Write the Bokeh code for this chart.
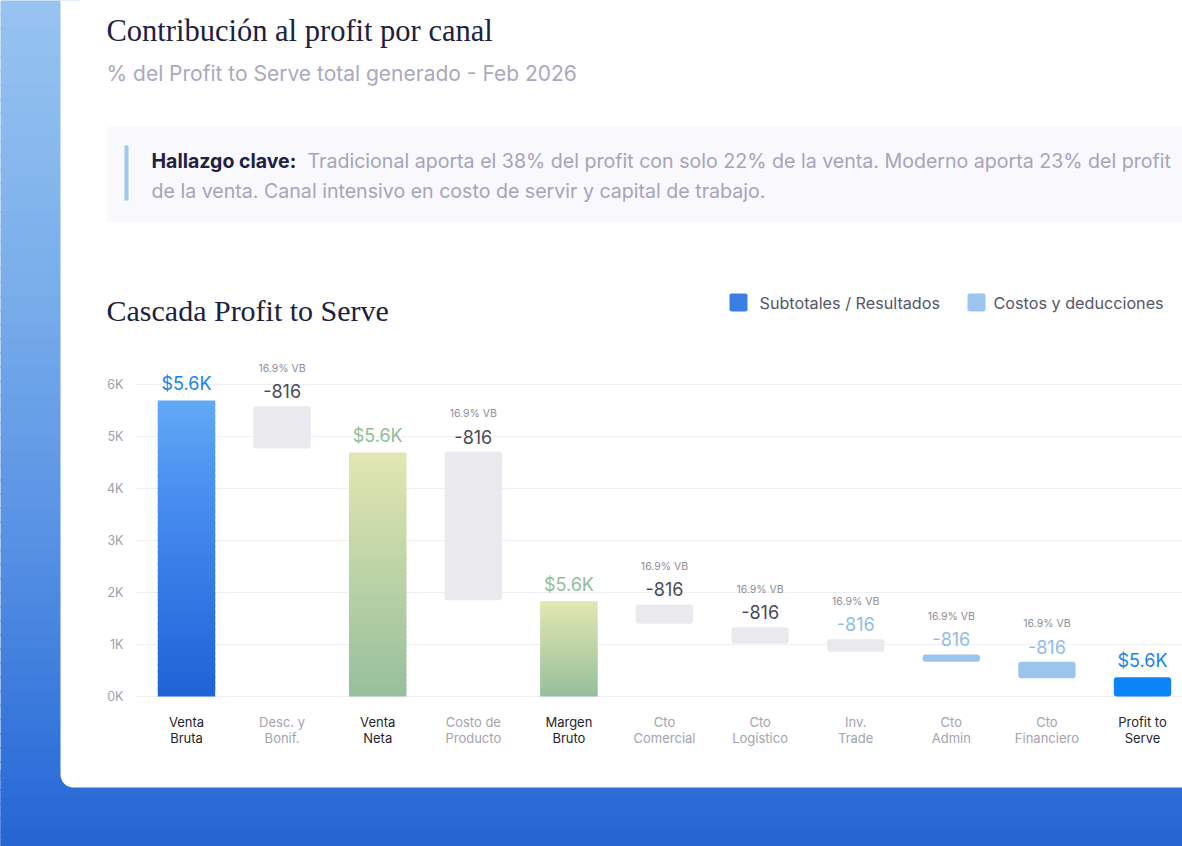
from bokeh.plotting import figure
from bokeh.models import Range1d, ColumnDataSource
from bokeh.core.properties import value
from bokeh.embed import file_html
from bokeh.resources import INLINE

# ---------------------------------------------------------------- data
categories = ["Venta Bruta", "Desc. y Bonif.", "Venta Neta", "Costo de Producto",
              "Margen Bruto", "Cto Comercial", "Cto Logístico", "Inv. Trade",
              "Cto Admin", "Cto Financiero", "Profit to Serve"]
bar_top = [5690, 5580, 4690, 4710, 1830, 1770, 1330, 1100, 810, 670, 370]
bar_base = [0, 4770, 0, 1850, 0, 1400, 1020, 860, 670, 350, 0]
value_text = ["$5.6K", "-816", "$5.6K", "-816", "$5.6K", "-816", "-816",
              "-816", "-816", "-816", "$5.6K"]
share_text = ["", "16.9% VB", "", "16.9% VB", "", "16.9% VB", "16.9% VB",
              "16.9% VB", "16.9% VB", "16.9% VB", ""]
bar_kind = ["gross", "cost", "net", "cost", "net", "cost", "cost",
            "cost_mark", "cost_blue", "cost_blue", "result"]
y_ticks = [0, 1000, 2000, 3000, 4000, 5000, 6000]
y_tick_text = ["0K", "1K", "2K", "3K", "4K", "5K", "6K"]
legend_items = ["Subtotales / Resultados", "Costos y deducciones"]

title_text = "Contribución al profit por canal"
subtitle_text = "% del Profit to Serve total generado - Feb 2026"
insight_head = "Hallazgo clave:"
insight_lines = ["Tradicional aporta el 38% del profit con solo 22% de la venta. Moderno aporta 23% del profit",
                 "de la venta. Canal intensivo en costo de servir y capital de trabajo."]
chart_title = "Cascada Profit to Serve"

# ---------------------------------------------------------------- styling
W, H = 1182, 846
SANS = value("Inter")
SERIF = value("Liberation Serif")

def hex2rgb(c):
    c = c.lstrip("#")
    return tuple(int(c[i:i + 2], 16) for i in (0, 2, 4))

def mix(stops, t):
    """Colour along a list of (position, hex) stops."""
    for (p0, c0), (p1, c1) in zip(stops, stops[1:]):
        if t <= p1:
            f = 0 if p1 == p0 else (t - p0) / (p1 - p0)
            a, b = hex2rgb(c0), hex2rgb(c1)
            return "#%02x%02x%02x" % tuple(round(a[k] + (b[k] - a[k]) * f) for k in range(3))
    return stops[-1][1]

gradients = {
    "gross": [(0, "#62a9f6"), (0.3, "#4a8ff0"), (1, "#1e62d6")],
    "net": [(0, "#e2e7b2"), (0.5, "#bcd3a6"), (1, "#96bf9c")],
}
flat_fill = {"cost": "#eae9ed", "cost_mark": "#eae9ed", "cost_blue": "#9bc5ed",
             "result": "#0a84f6"}
value_color = {"gross": "#1b82ee", "net": "#8fc095", "result": "#1b82ee",
               "cost": "#4a4a55", "cost_mark": "#8fbde9", "cost_blue": "#8fbde9"}
label_color = {"gross": "#25252e", "net": "#25252e", "result": "#25252e",
               "cost": "#a4a3ae", "cost_mark": "#a4a3ae", "cost_blue": "#a4a3ae"}

# pixel frame for the page, plus value / position scales for the chart
p = figure(width=W, height=H, x_range=Range1d(0, W), y_range=Range1d(H, 0),
           output_backend="svg", toolbar_location=None, min_border=0,
           x_axis_location=None, y_axis_location=None)
p.grid.visible = False
p.outline_line_color = None
p.background_fill_color = "white"
p.border_fill_color = "white"

ZERO_PX, PX_PER_UNIT = 696, 0.052
FIRST_PX, STEP_PX = 186, 95.6
p.extra_y_ranges = {"val": Range1d(-(H - ZERO_PX) / PX_PER_UNIT, ZERO_PX / PX_PER_UNIT)}
p.extra_x_ranges = {"idx": Range1d(-FIRST_PX / STEP_PX, (W - FIRST_PX) / STEP_PX)}

# blue page surround: vertical wash on the left strip and the bottom band
bg_stops = [(0, "#97c4f0"), (0.35, "#78adeb"), (0.65, "#5590e3"), (0.93, "#2d6ed9"), (1, "#2465d3")]
n_bg = 60
p.quad(left=[-2] * n_bg, right=[80] * n_bg,
       top=[H * j / n_bg - 1 for j in range(n_bg)],
       bottom=[H * (j + 1) / n_bg + 1 for j in range(n_bg)],
       fill_color=[mix(bg_stops, (j + 0.5) / n_bg) for j in range(n_bg)], line_color=None)
n_bt = 8
p.quad(left=[-2] * n_bt, right=[W + 2] * n_bt,
       top=[770 + (H - 770) * j / n_bt - 0.5 for j in range(n_bt)],
       bottom=[770 + (H - 770) * (j + 1) / n_bt + 0.5 for j in range(n_bt)],
       fill_color=[mix(bg_stops, (770 + (H - 770) * (j + 0.5) / n_bt) / H) for j in range(n_bt)],
       line_color=None)

# white card with a rounded lower-left corner
p.quad(left=60, right=W + 40, top=-40, bottom=787, fill_color="white", line_color=None,
       border_radius=(0, 0, 0, 13))

# headline and subtitle
p.text(x=[106], y=[30], text=[title_text], text_font=SERIF, text_font_size="30.5px",
       text_color="#1c2140", text_baseline="alphabetic")
p.text(x=[106], y=[73], text=[subtitle_text], text_font=SANS, text_font_size="21px",
       text_color="#aba8c0", text_baseline="alphabetic")

# insight box
p.quad(left=106, right=W + 40, top=126, bottom=222, fill_color="#f9f8fc", line_color=None,
       border_radius=4)
p.quad(left=124, right=128, top=145, bottom=200, fill_color="#9ec8ef", line_color=None)
p.text(x=[151], y=[160], text=[insight_head], text_font=SANS, text_font_size="19.5px",
       text_font_style="bold", text_color="#1e2240", text_baseline="alphabetic")
p.text(x=[307, 151], y=[160, 190], text=insight_lines, text_font=SANS, text_font_size="19.6px",
       text_color="#a6a4bb", text_baseline="alphabetic")

# chart heading and legend
p.text(x=[106], y=[310], text=[chart_title], text_font=SERIF, text_font_size="30px",
       text_color="#1c2140", text_baseline="alphabetic")
p.quad(left=[729, 967], right=[747, 985], top=[293, 293], bottom=[311, 311],
       fill_color=["#3a7fe2", "#9bc5ed"], line_color=None, border_radius=2)
p.text(x=[759, 993], y=[302, 302], text=legend_items, text_font=SANS, text_font_size="16.2px",
       text_color="#55566a", text_baseline="middle")

# gridlines and y tick labels
p.segment(x0=[135] * len(y_ticks), x1=[W] * len(y_ticks), y0=y_ticks, y1=y_ticks,
          y_range_name="val", line_color="#efeef3", line_width=1)
p.text(x=[123] * len(y_ticks), y=y_ticks, text=y_tick_text, y_range_name="val",
       text_font=SANS, text_font_size="12.5px", text_color="#a09fab",
       text_align="right", text_baseline="middle")

# bars
idx = list(range(len(categories)))
HALF = 0.3
n_sl = 50
for i, kind in enumerate(bar_kind):
    lo, hi = bar_base[i], bar_top[i]
    if kind in gradients:
        h = hi - lo
        p.quad(left=[i - HALF] * n_sl, right=[i + HALF] * n_sl,
               bottom=[lo + h * j / n_sl for j in range(n_sl)],
               top=[min(hi, lo + h * (j + 1.6) / n_sl) for j in range(n_sl)],
               fill_color=[mix(gradients[kind], 1 - (j + 0.5) / n_sl) for j in range(n_sl)],
               line_color=None, x_range_name="idx", y_range_name="val")
    else:
        p.quad(left=i - HALF, right=i + HALF, bottom=lo, top=hi,
               fill_color=flat_fill[kind], line_color=None, border_radius=3,
               x_range_name="idx", y_range_name="val")

# value labels above each bar
lab = ColumnDataSource(dict(
    x=idx, y=bar_top, v=value_text, s=share_text,
    vc=[value_color[k] for k in bar_kind],
    off=[-17 if k in ("gross", "net", "result") else -15 for k in bar_kind],
))
p.text(x="x", y="y", text="v", source=lab, y_offset="off", text_color="vc",
       text_font=SANS, text_font_size="18px", text_align="center", text_baseline="middle",
       x_range_name="idx", y_range_name="val")
p.text(x="x", y="y", text="s", source=lab, y_offset=-38, text_color="#8e8d97",
       text_font=SANS, text_font_size="10.5px", text_align="center", text_baseline="middle",
       x_range_name="idx", y_range_name="val")

# two-line category labels under the axis
line1 = [c.rsplit(" ", 1)[0] for c in categories]
line2 = [c.rsplit(" ", 1)[1] for c in categories]
cat = ColumnDataSource(dict(x=idx, a=line1, b=line2, c=[label_color[k] for k in bar_kind]))
p.text(x="x", y=721, text="a", source=cat, text_color="c", text_font=SANS,
       text_font_size="13px", text_align="center", text_baseline="middle", x_range_name="idx")
p.text(x="x", y=737, text="b", source=cat, text_color="c", text_font=SANS,
       text_font_size="13px", text_align="center", text_baseline="middle", x_range_name="idx")

open("out.html", "w").write(file_html(p, INLINE))
